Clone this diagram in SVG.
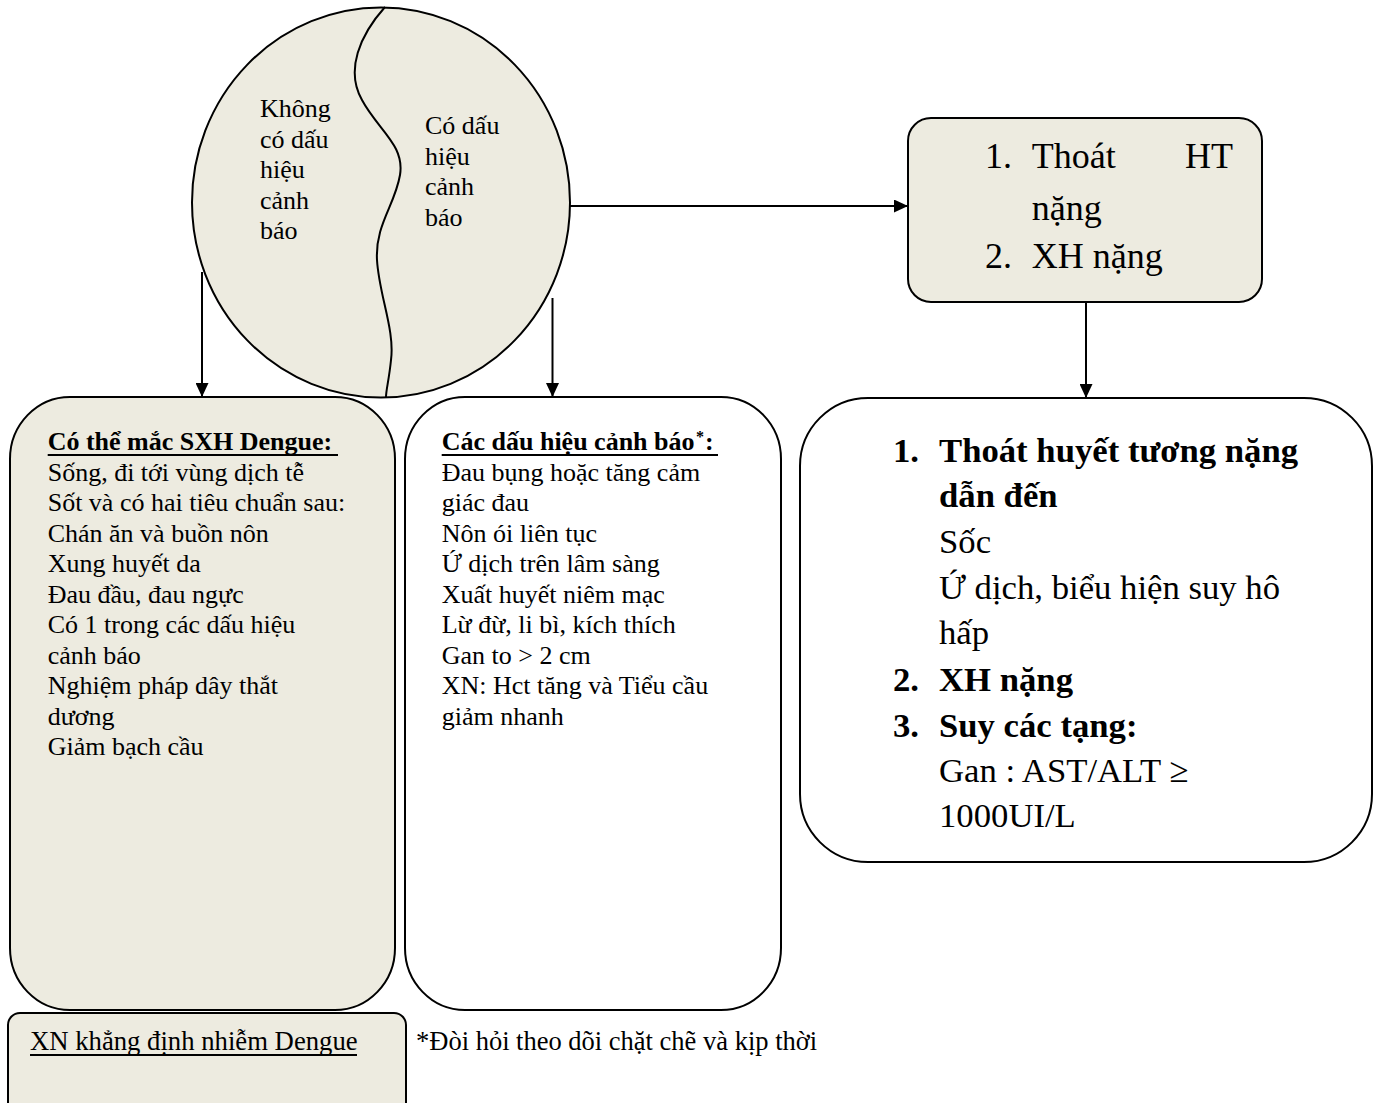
<svg xmlns="http://www.w3.org/2000/svg" width="1377" height="1103" viewBox="0 0 1377 1103">
  <style>
    .t{font-family:"Liberation Serif","Times New Roman",serif;fill:#000}
    .f26{font-size:26px}
    .f35{font-size:34.7px}
    .f36{font-size:36px}
    .b{font-weight:bold}
    .shape{stroke:#000;stroke-width:2}
    .beige{fill:#EDEBE0}
    .white{fill:#fff}
    .ul{stroke:#000;stroke-width:2}
    .conn{stroke:#000;stroke-width:2;fill:none}
  </style>
  <defs>
    <marker id="ah" markerWidth="14" markerHeight="13" refX="14" refY="6.5" orient="auto" markerUnits="userSpaceOnUse">
      <path d="M0,0 L14,6.5 L0,13 Z" fill="#000"/>
    </marker>
  </defs>

  <rect width="1377" height="1103" fill="#fff"/>

  <!-- split circle: without / with warning signs -->
  <g id="circle">
    <ellipse class="shape beige" cx="381" cy="202.5" rx="189" ry="195"/>
    <path class="conn" d="M385,7 C360,35 345,70 362,100 C378,130 405,145 400,175 C395,205 375,225 377,260 C379,295 395,330 391,360 C389,380 386,390 386,397"/>
    <text class="t f26">
      <tspan x="260" y="117">Không</tspan>
      <tspan x="260" y="147.5">có dấu</tspan>
      <tspan x="260" y="178">hiệu</tspan>
      <tspan x="260" y="208.5">cảnh</tspan>
      <tspan x="260" y="239">báo</tspan>
    </text>
    <text class="t f26">
      <tspan x="425" y="134">Có dấu</tspan>
      <tspan x="425" y="164.5">hiệu</tspan>
      <tspan x="425" y="195">cảnh</tspan>
      <tspan x="425" y="225.5">báo</tspan>
    </text>
  </g>

  <!-- severe dengue summary -->
  <g id="severe-short">
    <rect class="shape beige" x="908" y="118" width="354" height="184" rx="23" ry="23"/>
    <text class="t f36">
      <tspan x="985" y="168">1.</tspan><tspan x="1031.7" y="168">Thoát</tspan><tspan x="1185" y="168">HT</tspan>
      <tspan x="1031.7" y="220">nặng</tspan>
      <tspan x="985" y="268">2.</tspan><tspan x="1031.7" y="268">XH nặng</tspan>
    </text>
  </g>

  <!-- probable dengue -->
  <g id="probable">
    <rect class="shape beige" x="10" y="397" width="385" height="613" rx="60" ry="62"/>
    <text class="t f26 b" x="47.7" y="450">Có thể mắc SXH Dengue:</text>
    <line class="ul" x1="47.7" y1="455" x2="338" y2="455"/>
    <text class="t f26">
      <tspan x="47.7" y="480.5">Sống, đi tới vùng dịch tễ</tspan>
      <tspan x="47.7" y="511">Sốt và có hai tiêu chuẩn sau:</tspan>
      <tspan x="47.7" y="541.5">Chán ăn và buồn nôn</tspan>
      <tspan x="47.7" y="572">Xung huyết da</tspan>
      <tspan x="47.7" y="602.5">Đau đầu, đau ngực</tspan>
      <tspan x="47.7" y="633">Có 1 trong các dấu hiệu</tspan>
      <tspan x="47.7" y="663.5">cảnh báo</tspan>
      <tspan x="47.7" y="694">Nghiệm pháp dây thắt</tspan>
      <tspan x="47.7" y="724.5">dương</tspan>
      <tspan x="47.7" y="755">Giảm bạch cầu</tspan>
    </text>
  </g>

  <!-- warning signs -->
  <g id="warning-signs">
    <rect class="shape white" x="405" y="397" width="376" height="613" rx="60" ry="62"/>
    <text class="t f26 b" x="441.7" y="450">Các dấu hiệu cảnh báo</text>
    <text class="t b" font-size="16" x="696" y="442">*</text>
    <text class="t f26 b" x="705" y="450">:</text>
    <line class="ul" x1="441.7" y1="455" x2="718" y2="455"/>
    <text class="t f26">
      <tspan x="441.7" y="480.5">Đau bụng hoặc tăng cảm</tspan>
      <tspan x="441.7" y="511">giác đau</tspan>
      <tspan x="441.7" y="541.5">Nôn ói liên tục</tspan>
      <tspan x="441.7" y="572">Ứ dịch trên lâm sàng</tspan>
      <tspan x="441.7" y="602.5">Xuất huyết niêm mạc</tspan>
      <tspan x="441.7" y="633">Lừ đừ, li bì, kích thích</tspan>
      <tspan x="441.7" y="663.5">Gan to &gt; 2 cm</tspan>
      <tspan x="441.7" y="694">XN: Hct tăng và Tiểu cầu</tspan>
      <tspan x="441.7" y="724.5">giảm nhanh</tspan>
    </text>
  </g>

  <!-- severe dengue details -->
  <g id="severe-detail">
    <rect class="shape white" x="800" y="398" width="572" height="464" rx="68" ry="68"/>
    <text class="t f35">
      <tspan class="b" x="893" y="462">1.</tspan><tspan class="b" x="939" y="462">Thoát huyết tương nặng</tspan>
      <tspan class="b" x="939" y="507">dẫn đến</tspan>
      <tspan x="939" y="553">Sốc</tspan>
      <tspan x="939" y="599">Ứ dịch, biểu hiện suy hô</tspan>
      <tspan x="939" y="644">hấp</tspan>
      <tspan class="b" x="893" y="691">2.</tspan><tspan class="b" x="939" y="691">XH nặng</tspan>
      <tspan class="b" x="893" y="737">3.</tspan><tspan class="b" x="939" y="737">Suy các tạng:</tspan>
      <tspan x="939" y="782">Gan : AST/ALT ≥</tspan>
      <tspan x="939" y="827">1000UI/L</tspan>
    </text>
  </g>

  <!-- confirmatory test -->
  <g id="confirm">
    <rect class="shape beige" x="8" y="1013" width="398" height="110" rx="12" ry="12"/>
    <text class="t" font-size="26.7" x="30" y="1050">XN khẳng định nhiễm Dengue</text>
    <line class="ul" x1="30" y1="1055" x2="357" y2="1055" stroke-width="1.5"/>
  </g>

  <!-- footnote -->
  <g id="footnote">
    <text class="t" font-size="26.5" x="416" y="1050">*Đòi hỏi theo dõi chặt chẽ và kịp thời</text>
  </g>

  <g id="connectors">
    <line class="conn" x1="570" y1="206" x2="908" y2="206" marker-end="url(#ah)"/>
    <line class="conn" x1="202" y1="272" x2="202" y2="397" marker-end="url(#ah)"/>
    <line class="conn" x1="552.5" y1="298" x2="552.5" y2="397" marker-end="url(#ah)"/>
    <line class="conn" x1="1086" y1="302" x2="1086" y2="398" marker-end="url(#ah)"/>
  </g>
</svg>
